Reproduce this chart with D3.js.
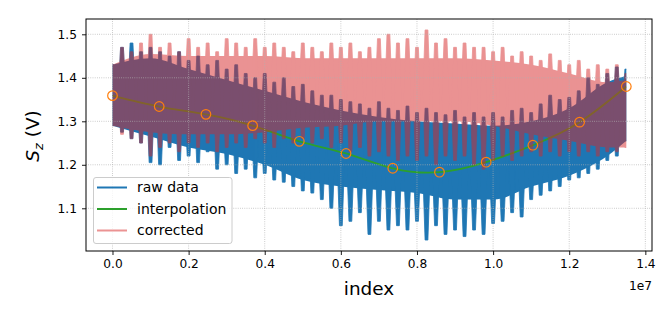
<!DOCTYPE html>
<html>
<head>
<meta charset="utf-8">
<script src="https://cdn.jsdelivr.net/npm/d3@7"></script>
<style>
  body { margin: 0; background: #fff; }
  svg { display: block; font-family: "DejaVu Sans", sans-serif; }
</style>
</head>
<body>
<div id="chart"></div>
<script>
// interpolation knots (orange circles + green curve)
const knotIdx = [0, 1.227e6, 2.455e6, 3.682e6, 4.909e6, 6.136e6, 7.364e6, 8.591e6, 9.818e6, 11.045e6, 12.273e6, 13.5e6];
const knotVal = [1.359, 1.334, 1.316, 1.290, 1.254, 1.226, 1.192, 1.183, 1.206, 1.245, 1.298, 1.380];

// envelope of the dense signal, read every 0.1e7
const bandIdx = [0, 1e6, 2e6, 3e6, 4e6, 5e6, 6e6, 7e6, 8e6, 9e6, 10e6, 11e6, 12e6, 13e6, 13.5e6];
const rawHi  = [1.43, 1.445, 1.42, 1.395, 1.37, 1.345, 1.325, 1.31, 1.30, 1.295, 1.29, 1.30, 1.33, 1.39, 1.405];
const rawLo  = [1.29, 1.265, 1.24, 1.225, 1.20, 1.165, 1.15, 1.142, 1.135, 1.12, 1.12, 1.15, 1.175, 1.22, 1.255];
const corrHi = [1.43, 1.455, 1.45, 1.45, 1.45, 1.445, 1.445, 1.445, 1.445, 1.445, 1.44, 1.43, 1.41, 1.39, 1.395];
const corrLo = [1.29, 1.275, 1.27, 1.27, 1.275, 1.285, 1.29, 1.30, 1.30, 1.30, 1.29, 1.27, 1.255, 1.24, 1.24];

// spike extremes, read every 0.025e7 (index in millions)
const spikeIdxM = [0, 0.25, 0.5, 0.75, 1, 1.25, 1.5, 1.75, 2, 2.25, 2.5, 2.75, 3, 3.25, 3.5, 3.75,
  4, 4.25, 4.5, 4.75, 5, 5.25, 5.5, 5.75, 6, 6.25, 6.5, 6.75, 7, 7.25, 7.5, 7.75, 8, 8.25, 8.5, 8.75,
  9, 9.25, 9.5, 9.75, 10, 10.25, 10.5, 10.75, 11, 11.25, 11.5, 11.75, 12, 12.25, 12.5, 12.75, 13, 13.25, 13.5];
const rawSpikeHi = [1.43, 1.47, 1.48, 1.46, 1.47, 1.46, 1.45, 1.46, 1.44, 1.45, 1.43, 1.44, 1.42, 1.43, 1.41, 1.40,
  1.41, 1.39, 1.40, 1.38, 1.385, 1.37, 1.36, 1.36, 1.35, 1.345, 1.34, 1.33, 1.345, 1.33, 1.325, 1.335,
  1.32, 1.33, 1.32, 1.315, 1.325, 1.31, 1.32, 1.31, 1.32, 1.31, 1.325, 1.33, 1.32, 1.34, 1.36, 1.35,
  1.355, 1.37, 1.40, 1.385, 1.41, 1.425, 1.42];
const rawSpikeLo = [1.29, 1.275, 1.26, 1.25, 1.205, 1.20, 1.24, 1.21, 1.22, 1.205, 1.23, 1.19, 1.20, 1.18, 1.19, 1.17,
  1.18, 1.165, 1.16, 1.15, 1.14, 1.135, 1.12, 1.10, 1.06, 1.07, 1.09, 1.04, 1.07, 1.05, 1.06, 1.05,
  1.07, 1.027, 1.06, 1.04, 1.05, 1.035, 1.05, 1.04, 1.065, 1.07, 1.09, 1.08, 1.12, 1.13, 1.14, 1.15,
  1.165, 1.17, 1.18, 1.19, 1.21, 1.22, 1.255];
const corrSpikeHi = [1.43, 1.47, 1.46, 1.48, 1.50, 1.47, 1.48, 1.46, 1.49, 1.47, 1.48, 1.46, 1.49, 1.48, 1.47, 1.49,
  1.47, 1.48, 1.47, 1.46, 1.48, 1.47, 1.46, 1.48, 1.47, 1.48, 1.46, 1.47, 1.49, 1.50, 1.48, 1.49,
  1.47, 1.51, 1.48, 1.49, 1.47, 1.48, 1.47, 1.47, 1.46, 1.47, 1.45, 1.46, 1.45, 1.44, 1.455, 1.44,
  1.43, 1.44, 1.42, 1.43, 1.42, 1.43, 1.41];
const corrSpikeLo = [1.29, 1.27, 1.26, 1.25, 1.22, 1.24, 1.25, 1.23, 1.25, 1.24, 1.25, 1.23, 1.24, 1.25, 1.24, 1.26,
  1.25, 1.24, 1.26, 1.25, 1.26, 1.25, 1.26, 1.24, 1.25, 1.23, 1.24, 1.22, 1.23, 1.22, 1.21, 1.22,
  1.21, 1.22, 1.20, 1.22, 1.21, 1.22, 1.20, 1.19, 1.21, 1.22, 1.21, 1.22, 1.23, 1.22, 1.23, 1.22,
  1.23, 1.22, 1.23, 1.22, 1.23, 1.23, 1.24];

const xTicks = [0, 0.2e7, 0.4e7, 0.6e7, 0.8e7, 1.0e7, 1.2e7, 1.4e7];
const xTickLabels = ["0.0", "0.2", "0.4", "0.6", "0.8", "1.0", "1.2", "1.4"];
const yTicks = [1.1, 1.2, 1.3, 1.4, 1.5];
const yTickLabels = ["1.1", "1.2", "1.3", "1.4", "1.5"];

const width = 672, height = 309;
const pLeft = 86, pRight = 652, pTop = 19, pBottom = 251;

const blue = "#1f77b4", green = "#2ca02c", red = "#d62728", orange = "#ff7f0e";

const x = d3.scaleLinear().domain([-0.0696e7, 1.4175e7]).range([pLeft, pRight]);
const y = d3.scaleLinear().domain([1.0018, 1.5352]).range([pBottom, pTop]);

const svg = d3.select("#chart").append("svg")
  .attr("width", width)
  .attr("height", height);

// clip to the data span so fingers don't spill past the first/last sample
svg.append("defs").append("clipPath").attr("id", "clip")
  .append("rect").attr("x", x(0)).attr("y", pTop).attr("width", x(13.5e6) - x(0)).attr("height", pBottom - pTop);

const plot = svg.append("g").attr("clip-path", "url(#clip)");

// spindle shaped finger: narrower at both tips, wide in the middle
const finger = d3.line().x(p => p[0]).y(p => p[1]);

function drawSignal(g, hi, lo, spHi, spLo, color) {
  const band = bandIdx.map((v, i) => ({ idx: v, hi: hi[i], lo: lo[i] }));
  g.append("path")
    .datum(band)
    .attr("fill", color)
    .attr("d", d3.area()
      .curve(d3.curveMonotoneX)
      .x(d => x(d.idx))
      .y0(d => y(d.lo))
      .y1(d => y(d.hi)));
  const spikes = spikeIdxM.map((v, i) => ({ idx: v * 1e6, hi: spHi[i], lo: spLo[i] }));
  g.selectAll(".spike")
    .data(spikes)
    .enter()
    .append("path")
    .attr("fill", color)
    .attr("stroke", color)
    .attr("stroke-width", 0.8)
    .attr("stroke-linejoin", "round")
    .attr("d", d => {
      const cx = x(d.idx), yt = y(d.hi), yb = y(d.lo), ym = (yt + yb) / 2;
      return finger([[cx - 1.4, yt], [cx + 1.4, yt], [cx + 3.6, ym], [cx + 1.4, yb], [cx - 1.4, yb], [cx - 3.6, ym]]) + "Z";
    });
}

// raw data
drawSignal(plot.append("g"), rawHi, rawLo, rawSpikeHi, rawSpikeLo, blue);

// interpolation
const knots = knotIdx.map((v, i) => ({ idx: v, val: knotVal[i] }));
plot.append("path")
  .datum(knots)
  .attr("fill", "none")
  .attr("stroke", green)
  .attr("stroke-width", 1.8)
  .attr("d", d3.line().curve(d3.curveNatural).x(d => x(d.idx)).y(d => y(d.val)));

// corrected, semi transparent
drawSignal(plot.append("g").attr("opacity", 0.5), corrHi, corrLo, corrSpikeHi, corrSpikeLo, red);

// grid on top, dotted
const grid = svg.append("g")
  .attr("stroke", "#b0b0b0")
  .attr("stroke-width", 0.8)
  .attr("stroke-dasharray", "0.8,1.4");
grid.selectAll(".gx").data(xTicks).enter().append("line")
  .attr("x1", d => x(d)).attr("x2", d => x(d))
  .attr("y1", pTop).attr("y2", pBottom);
grid.selectAll(".gy").data(yTicks).enter().append("line")
  .attr("x1", pLeft).attr("x2", pRight)
  .attr("y1", d => y(d)).attr("y2", d => y(d));

// knot markers
svg.append("g").selectAll("circle")
  .data(knots)
  .enter()
  .append("circle")
  .attr("cx", d => x(d.idx))
  .attr("cy", d => y(d.val))
  .attr("r", 4.8)
  .attr("fill", "none")
  .attr("stroke", orange)
  .attr("stroke-width", 1.2);

// axes
const xAxis = d3.axisBottom(x).tickValues(xTicks).tickFormat((d, i) => xTickLabels[i]).tickSize(4).tickPadding(4);
const yAxis = d3.axisLeft(y).tickValues(yTicks).tickFormat((d, i) => yTickLabels[i]).tickSize(4).tickPadding(5);

const gx = svg.append("g").attr("transform", "translate(0," + pBottom + ")").call(xAxis);
const gy = svg.append("g").attr("transform", "translate(" + pLeft + ",0)").call(yAxis);
[gx, gy].forEach(g => {
  g.select(".domain").remove();
  g.selectAll("text").attr("font-family", "DejaVu Sans").attr("font-size", 12.2).attr("fill", "#000");
  g.selectAll("line").attr("stroke", "#000").attr("stroke-width", 0.9);
});

svg.append("rect")
  .attr("x", pLeft).attr("y", pTop)
  .attr("width", pRight - pLeft).attr("height", pBottom - pTop)
  .attr("fill", "none").attr("stroke", "#000").attr("stroke-width", 1);

svg.append("text")
  .attr("x", (pLeft + pRight) / 2).attr("y", 295)
  .attr("text-anchor", "middle").attr("font-size", 18.4)
  .text("index");

svg.append("text")
  .attr("x", pRight).attr("y", 290)
  .attr("text-anchor", "end").attr("font-size", 12.2)
  .text("1e7");

const yl = svg.append("text")
  .attr("transform", "translate(39,136) rotate(-90)")
  .attr("text-anchor", "middle").attr("font-size", 18.5);
yl.append("tspan").attr("font-style", "italic").text("S");
yl.append("tspan").attr("font-style", "italic").attr("font-size", 13).attr("dy", 4).text("z");
yl.append("tspan").attr("dy", -4).text(" (V)");

// legend
const legendItems = ["raw data", "interpolation", "corrected"];
const legendColors = [blue, green, "#eb9393"];
const lg = svg.append("g");
lg.append("rect")
  .attr("x", 93.5).attr("y", 177.5).attr("width", 138.5).attr("height", 66)
  .attr("rx", 2.5)
  .attr("fill", "#fff").attr("fill-opacity", 0.8)
  .attr("stroke", "#cccccc").attr("stroke-width", 1);
legendItems.forEach((name, i) => {
  const ly = 187.5 + i * 21.5;
  lg.append("line")
    .attr("x1", 97).attr("x2", 127).attr("y1", ly).attr("y2", ly)
    .attr("stroke", legendColors[i]).attr("stroke-width", 2);
  lg.append("text")
    .attr("x", 137).attr("y", ly).attr("dy", "0.35em")
    .attr("font-size", 14)
    .text(name);
});
</script>
</body>
</html>
